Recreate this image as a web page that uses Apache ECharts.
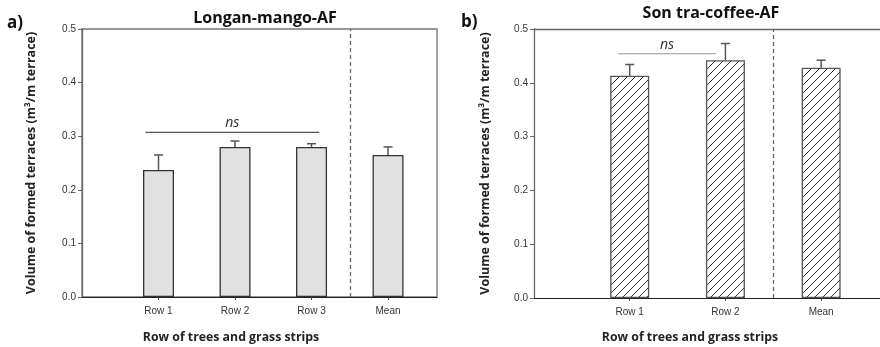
<!DOCTYPE html>
<html>
<head>
<meta charset="utf-8">
<script src="https://cdn.jsdelivr.net/npm/echarts@6/dist/echarts.min.js"></script>
<style>html,body{margin:0;padding:0;background:#fff;}#c{width:880px;height:347px;}</style>
</head>
<body>
<div id="c"></div>
<script>
// ---- data ----
const catsA = ['Row 1', 'Row 2', 'Row 3', 'Mean'];
const meanA = [0.237, 0.280, 0.280, 0.265];
const errA  = [0.028, 0.011, 0.006, 0.015];
const nsA   = { from: 0.83, to: 3.1, y: 0.307 };

const catsB = ['Row 1', 'Row 2', 'Mean'];
const meanB = [0.413, 0.442, 0.428];
const errB  = [0.021, 0.031, 0.014];
const nsB   = { from: 0.88, to: 1.9, y: 0.454 };

const yTicks = [0, 0.1, 0.2, 0.3, 0.4, 0.5];

// ---- hatch pattern ----
function hatch() {
  const s = 8, c = document.createElement('canvas');
  c.width = s; c.height = s;
  const g = c.getContext('2d');
  g.fillStyle = '#fff'; g.fillRect(0, 0, s, s);
  g.strokeStyle = '#333'; g.lineWidth = 1;
  g.beginPath();
  g.moveTo(-1, s + 1); g.lineTo(s + 1, -1);
  g.moveTo(-1, 1); g.lineTo(1, -1);
  g.moveTo(s - 1, s + 1); g.lineTo(s + 1, s - 1);
  g.stroke();
  return c;
}

const chart = echarts.init(document.getElementById('c'), null, { renderer: 'canvas' });

const tickFont = { fontFamily: 'Liberation Sans', fontSize: 10, color: '#333' };
const boldFont = 'Open Sans';

function xAxisFor(idx, cats, max) {
  return {
    type: 'value', gridIndex: idx, min: 0, max: max, interval: 1,
    splitLine: { show: false },
    axisLine: { show: true, lineStyle: { color: '#222', width: 1.2 } },
    axisTick: { show: true, length: 3, lineStyle: { color: '#444' }, customValues: cats.map((_, i) => i + 1) },
    axisLabel: Object.assign({ margin: 9, customValues: cats.map((_, i) => i + 1),
      formatter: v => cats[Math.round(v) - 1] || '' }, tickFont)
  };
}
function yAxisFor(idx, gap) {
  return {
    type: 'value', gridIndex: idx, min: 0, max: 0.5, interval: 0.1,
    splitLine: { show: false },
    axisLine: { show: true, lineStyle: { color: '#666', width: 1.3 } },
    axisTick: { show: true, length: 4, lineStyle: { color: '#666' } },
    axisLabel: Object.assign({ margin: 6, formatter: v => v.toFixed(1) }, tickFont),
    name: 'Volume of formed terraces (m\u00B3/m terrace)',
    nameLocation: 'middle', nameGap: gap,
    nameTextStyle: { fontFamily: boldFont, fontWeight: 'bold', fontSize: 12.5, color: '#222' }
  };
}

function errSeries(xi, means, errs, cap) {
  return {
    type: 'custom', xAxisIndex: xi, yAxisIndex: xi, z: 5,
    data: means.map((m, i) => [i + 1, m, errs[i]]),
    renderItem: (p, api) => {
      const x = api.value(0), y = api.value(1), e = api.value(2);
      const b = api.coord([x, y]), t = api.coord([x, y + e]);
      const st = { stroke: '#555', lineWidth: 1.5 };
      return { type: 'group', children: [
        { type: 'line', shape: { x1: b[0], y1: b[1], x2: t[0], y2: t[1] }, style: st },
        { type: 'line', shape: { x1: t[0] - cap / 2, y1: t[1], x2: t[0] + cap / 2, y2: t[1] }, style: st }
      ] };
    }
  };
}
function nsSeries(xi, ns, col) {
  return {
    type: 'custom', xAxisIndex: xi, yAxisIndex: xi, z: 5,
    data: [[ns.from, ns.to, ns.y]],
    renderItem: (p, api) => {
      const a = api.coord([api.value(0), api.value(2)]);
      const b = api.coord([api.value(1), api.value(2)]);
      return { type: 'group', children: [
        { type: 'line', shape: { x1: a[0], y1: a[1], x2: b[0], y2: b[1] }, style: { stroke: col, lineWidth: 1.2 } },
        { type: 'text', style: { text: 'ns', x: (a[0] + b[0]) / 2, y: a[1] - 9, align: 'center', verticalAlign: 'middle',
            font: 'italic 14px "Open Sans"', fill: '#333' } }
      ] };
    }
  };
}
function vDash() {
  return { silent: true, symbol: 'none', label: { show: false },
    lineStyle: { type: [4, 3], color: '#666', width: 1.3 }, data: [{ xAxis: 0 }] };
}

const option = {
  animation: false,
  grid: [
    { left: 82, top: 29, width: 355, height: 268, show: true, borderColor: '#777', borderWidth: 1.3, backgroundColor: 'transparent' },
    { left: 534, top: 29, width: 346, height: 269 }
  ],
  xAxis: [
    xAxisFor(0, catsA, 4.64),
    xAxisFor(1, catsB, 3.615),
    { type: 'value', gridIndex: 1, position: 'top', min: 0, max: 3.615,
      axisLine: { show: true, lineStyle: { color: '#666', width: 1.3 } },
      axisTick: { show: false }, axisLabel: { show: false }, splitLine: { show: false } }
  ],
  yAxis: [yAxisFor(0, 44), yAxisFor(1, 42)],
  series: [
    { type: 'bar', xAxisIndex: 0, yAxisIndex: 0, barWidth: 31,
      data: meanA.map((m, i) => [i + 1, m]),
      itemStyle: { color: '#e1e1e1', borderColor: '#333', borderWidth: 1.3 },
      markLine: Object.assign(vDash(), { data: [{ xAxis: 3.5 }] }) },
    errSeries(0, meanA, errA, 9),
    nsSeries(0, nsA, '#555'),
    { type: 'bar', xAxisIndex: 1, yAxisIndex: 1, barWidth: 39,
      data: meanB.map((m, i) => [i + 1, m]),
      itemStyle: { color: { image: hatch(), repeat: 'repeat' }, borderColor: '#555', borderWidth: 1.3 },
      markLine: Object.assign(vDash(), { data: [{ xAxis: 2.5 }] }) },
    errSeries(1, meanB, errB, 9),
    nsSeries(1, nsB, '#999')
  ],
  graphic: [
    { type: 'text', x: 265, y: 18, style: { text: 'Longan-mango-AF', align: 'center', verticalAlign: 'middle', font: 'bold 16px "Open Sans"', fill: '#111' } },
    { type: 'text', x: 711, y: 13, style: { text: 'Son tra-coffee-AF', align: 'center', verticalAlign: 'middle', font: 'bold 16px "Open Sans"', fill: '#111' } },
    { type: 'text', x: 7, y: 23, style: { text: 'a)', align: 'left', verticalAlign: 'middle', font: 'bold 17px "Open Sans"', fill: '#111' } },
    { type: 'text', x: 461, y: 22, style: { text: 'b)', align: 'left', verticalAlign: 'middle', font: 'bold 17px "Open Sans"', fill: '#111' } },
    { type: 'text', x: 231, y: 337, style: { text: 'Row of trees and grass strips', align: 'center', verticalAlign: 'middle', font: 'bold 12.3px "Open Sans"', fill: '#222' } },
    { type: 'text', x: 690, y: 337, style: { text: 'Row of trees and grass strips', align: 'center', verticalAlign: 'middle', font: 'bold 12.3px "Open Sans"', fill: '#222' } }
  ]
};
chart.setOption(option);
</script>
</body>
</html>
